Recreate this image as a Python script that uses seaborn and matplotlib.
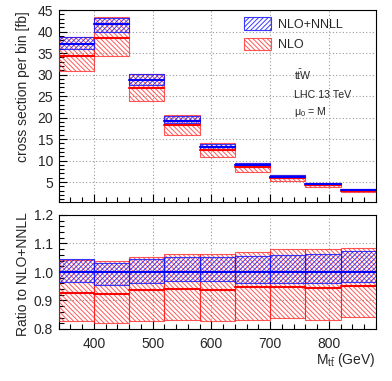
import matplotlib
matplotlib.use("Agg")
import numpy as np
import pandas as pd
import seaborn as sns
import matplotlib.pyplot as plt
from matplotlib.patches import Patch
from matplotlib.ticker import MultipleLocator

# ---- data ----
bin_edges = [340, 400, 460, 520, 580, 640, 700, 760, 820, 880]
nnll_central = [37.1, 41.7, 28.7, 19.3, 13.2, 8.9, 6.25, 4.5, 3.1]      # fb
nnll_up = [1.044, 1.033, 1.046, 1.051, 1.051, 1.056, 1.058, 1.062, 1.073]  # ratio
nnll_down = [0.966, 0.956, 0.961, 0.967, 0.968, 0.963, 0.961, 0.963, 0.966]
nlo_central = [0.927, 0.924, 0.937, 0.941, 0.937, 0.946, 0.948, 0.945, 0.952]
nlo_up = [1.041, 1.039, 1.051, 1.063, 1.064, 1.069, 1.079, 1.079, 1.085]
nlo_down = [0.828, 0.822, 0.828, 0.831, 0.828, 0.831, 0.840, 0.831, 0.841]
labels = ["NLO+NNLL", "NLO"]

sns.set_theme(style="ticks")
plt.rcParams.update({
    "font.family": ["Liberation Sans", "DejaVu Sans"],
    "mathtext.fontset": "custom",
    "mathtext.rm": "Liberation Sans",
    "mathtext.it": "Liberation Sans",
    "hatch.linewidth": 0.7,
    "axes.linewidth": 0.8,
    "axes.edgecolor": "black",
})

edges = np.array(bin_edges)
left = edges[:-1]
width = np.diff(edges)
c = np.array(nnll_central)

blue = (0.0, 0.0, 1.0)
blue_band = (0.1, 0.1, 1.0, 0.85)
red = (1.0, 0.0, 0.0)
red_band = (1.0, 0.1, 0.1, 0.72)
hatch_blue = "/" * 7
hatch_red = "\\" * 7

fig = plt.figure(figsize=(3.92, 3.81), dpi=100)
W, H = 392, 381
ax1 = fig.add_axes([58.5 / W, 1 - 202 / H, (376 - 58.5) / W, 192 / H])
ax2 = fig.add_axes([58.5 / W, 1 - 329 / H, (376 - 58.5) / W, 114 / H])


def seg_frame(vals):
    rows = []
    for i, v in enumerate(vals):
        rows.append({"x": edges[i], "y": v, "bin": i})
        rows.append({"x": edges[i + 1], "y": v, "bin": i})
    return pd.DataFrame(rows)


def draw(ax, scale):
    nlo_lo = np.array(nlo_down) * scale
    nlo_hi = np.array(nlo_up) * scale
    nn_lo = np.array(nnll_down) * scale
    nn_hi = np.array(nnll_up) * scale
    ax.bar(left, nlo_hi - nlo_lo, bottom=nlo_lo, width=width, align="edge",
           facecolor="none", edgecolor=red_band, hatch=hatch_red, linewidth=0.8, zorder=3)
    ax.bar(left, nn_hi - nn_lo, bottom=nn_lo, width=width, align="edge",
           facecolor="none", edgecolor=blue_band, hatch=hatch_blue, linewidth=0.8, zorder=4)
    sns.lineplot(data=seg_frame(np.array(nlo_central) * scale), x="x", y="y", units="bin",
                 estimator=None, color=red, lw=1.5, ax=ax, legend=False, zorder=5)
    sns.lineplot(data=seg_frame(np.ones(len(c)) * scale), x="x", y="y", units="bin",
                 estimator=None, color=blue, lw=1.5, ax=ax, legend=False, zorder=6)


draw(ax1, c)
draw(ax2, np.ones(len(c)))

grid_kw = dict(color="#9a9a9a", linestyle=(0, (1, 2)), linewidth=0.8)
for ax in (ax1, ax2):
    ax.set_xlim(340, 880)
    ax.grid(True, which="major", **grid_kw)
    ax.set_axisbelow(True)
    ax.xaxis.set_major_locator(MultipleLocator(100))
    ax.xaxis.set_minor_locator(MultipleLocator(20))
    ax.tick_params(which="both", direction="in", top=False, right=False,
                   labelsize=10, color="black")
    ax.tick_params(which="major", length=6, width=0.8, pad=4)
    ax.tick_params(which="minor", length=3.5, width=0.8)
    for s in ax.spines.values():
        s.set_visible(True)
        s.set_linewidth(0.8)
    ax.set_xlabel("")
    ax.set_ylabel("")

ax1.set_ylim(0.35, 45)
ax1.yaxis.set_major_locator(MultipleLocator(5))
ax1.yaxis.set_minor_locator(MultipleLocator(1))
ax1.set_yticks([5, 10, 15, 20, 25, 30, 35, 40, 45])
ax1.tick_params(axis="x", labelbottom=False)

ax2.set_ylim(0.8, 1.2)
ax2.yaxis.set_major_locator(MultipleLocator(0.1))
ax2.yaxis.set_minor_locator(MultipleLocator(0.02))
ax2.yaxis.set_major_formatter(matplotlib.ticker.FormatStrFormatter("%.1f"))
ax2.tick_params(axis="x", pad=6)

ax1.set_ylabel("cross section per bin [fb]", fontsize=10, loc="top")
ax1.yaxis.set_label_coords(-0.09, 0.995)
ax2.set_ylabel("Ratio to NLO+NNLL", fontsize=10, loc="top")
ax2.yaxis.set_label_coords(-0.09, 1.026)
ax2.set_xlabel(r"$\mathrm{M_{t\bar{t}}}$ (GeV)", fontsize=10, loc="right")
ax2.xaxis.set_label_coords(1.0, -0.31)
ax2.xaxis.label.set_va("baseline")

handles = [Patch(facecolor="none", edgecolor=blue_band, hatch=hatch_blue, linewidth=0.8),
           Patch(facecolor="none", edgecolor=red_band, hatch=hatch_red, linewidth=0.8)]
ax1.legend(handles, labels, loc="upper left", bbox_to_anchor=(0.584, 0.9635),
           frameon=False, fontsize=9, borderpad=0, borderaxespad=0,
           handlelength=2.16, handleheight=1.2, handletextpad=0.56, labelspacing=0.56)

tkw = dict(transform=ax1.transAxes, fontsize=7.7, ha="left", va="baseline")
ax1.text(0.742, 0.635, r"$\mathrm{t\bar{t}W}$", **tkw)
ax1.text(0.742, 0.540, "LHC 13 TeV", **tkw)
ax1.text(0.742, 0.453, r"$\mathrm{\mu_{0}}$ = M", **tkw)

fig.savefig("out.png", dpi=100)
